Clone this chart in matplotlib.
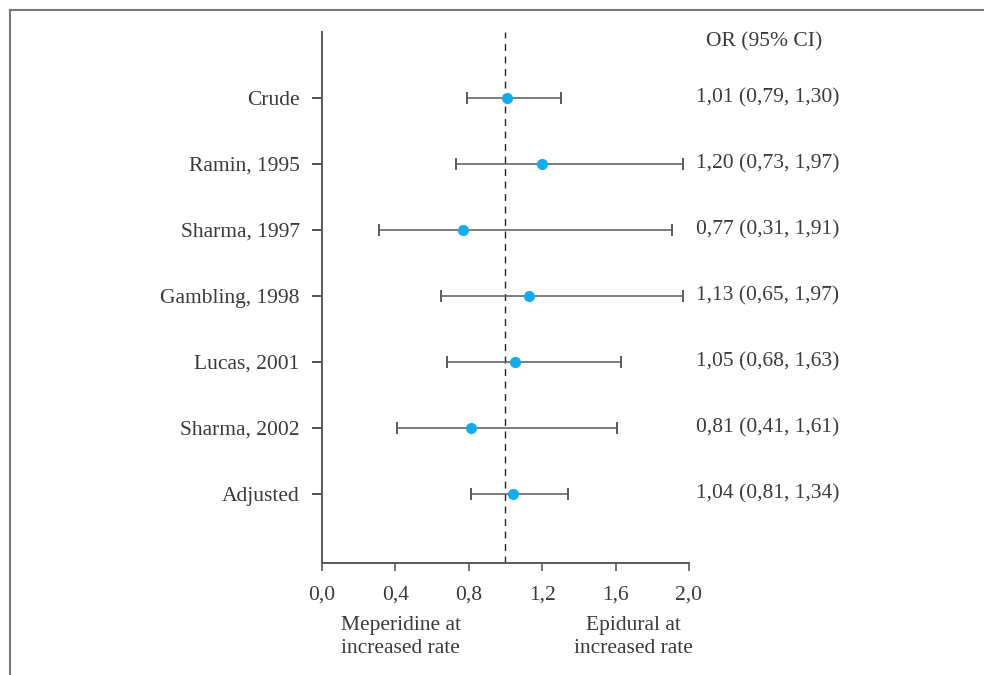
import matplotlib
matplotlib.use('Agg')
import matplotlib.pyplot as plt
from matplotlib.lines import Line2D

studies = ['Crude', 'Ramin, 1995', 'Sharma, 1997', 'Gambling, 1998',
           'Lucas, 2001', 'Sharma, 2002', 'Adjusted']
odds = [1.01, 1.20, 0.77, 1.13, 1.05, 0.81, 1.04]
lower = [0.79, 0.73, 0.31, 0.65, 0.68, 0.41, 0.81]
upper = [1.30, 1.97, 1.91, 1.97, 1.63, 1.61, 1.34]
or_labels = ['1,01 (0,79, 1,30)', '1,20 (0,73, 1,97)', '0,77 (0,31, 1,91)',
             '1,13 (0,65, 1,97)', '1,05 (0,68, 1,63)', '0,81 (0,41, 1,61)',
             '1,04 (0,81, 1,34)']
xticks = [0.0, 0.4, 0.8, 1.2, 1.6, 2.0]
xtick_labels = ['0,0', '0,4', '0,8', '1,2', '1,6', '2,0']

plt.rcParams['font.family'] = ['Liberation Serif', 'DejaVu Serif']
txt = '#3a3a3a'
linec = '#5a5a5a'

fig = plt.figure(figsize=(9.84, 6.75), dpi=100)
ax = fig.add_axes([0.3272, 0.1659, 0.3730, 0.7867])

ypos = list(range(len(studies)))
xerr = [[o - l for o, l in zip(odds, lower)], [u - o for o, u in zip(odds, upper)]]

ax.axvline(1.0, color='#222222', lw=1.0, ls=(0, (5, 4)), zorder=1)
ax.errorbar(odds, ypos, xerr=xerr, fmt='o', color='#12adea', ecolor=linec,
            elinewidth=1.1, capsize=4, capthick=1.4, markersize=7, zorder=3)

ax.set_xlim(0, 2.0)
ax.set_ylim(7.045, -1)
ax.set_xticks(xticks)
ax.set_xticklabels(xtick_labels)
ax.set_yticks(ypos)
ax.set_yticklabels(studies)
ax.tick_params(axis='x', direction='out', length=6, width=1.2, color=linec,
               labelsize=15.5, labelcolor=txt, pad=10)
ax.tick_params(axis='y', direction='out', length=7, width=1.2, color='#333333',
               labelsize=15.5, labelcolor=txt, pad=9)

for s in ['top', 'right']:
    ax.spines[s].set_visible(False)
for s in ['left', 'bottom']:
    ax.spines[s].set_color(linec)
    ax.spines[s].set_linewidth(1.4)

for y, lab in zip(ypos, or_labels):
    ax.text(2.038, y, lab, ha='left', va='center', fontsize=15.5, color=txt,
            clip_on=False)
ax.text(2.409, -0.85, 'OR (95% CI)', ha='center', va='center', fontsize=15.5,
        color=txt, clip_on=False)

ax.text(0.43, 8.17, 'Meperidine at\nincreased rate', ha='center', va='center',
        fontsize=15.5, color=txt, linespacing=1.3, clip_on=False)
ax.text(1.695, 8.17, 'Epidural at\nincreased rate', ha='center', va='center',
        fontsize=15.5, color=txt, linespacing=1.3, clip_on=False)

# frame around the figure (left and top only)
fig.add_artist(Line2D([10 / 984, 10 / 984], [0, 1 - 10 / 675], color='#777777', lw=1.5))
fig.add_artist(Line2D([10 / 984, 1], [1 - 10 / 675, 1 - 10 / 675], color='#777777', lw=1.5))

fig.savefig('out.png', dpi=100)
